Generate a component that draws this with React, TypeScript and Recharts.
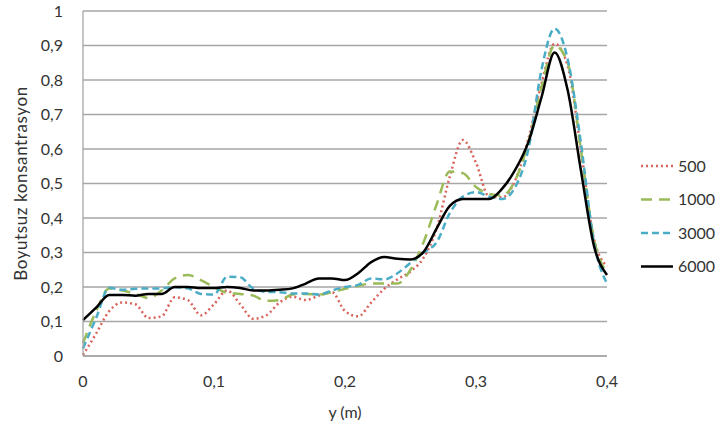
import React from "react";
import { LineChart, Line, XAxis, YAxis, CartesianGrid } from "recharts";

// y konumu (m), 0.01 adımla
const yPos = Array.from({ length: 41 }, (_, i) => Math.round(i) / 100);

const c500 = [
  0.003, 0.065, 0.13, 0.155, 0.15, 0.11, 0.115, 0.17, 0.162, 0.118,
  0.15, 0.19, 0.15, 0.108, 0.118, 0.155, 0.172, 0.162, 0.175, 0.185,
  0.13, 0.115, 0.155, 0.195, 0.222, 0.245, 0.285, 0.37, 0.52, 0.626,
  0.56, 0.462, 0.46, 0.51, 0.63, 0.79, 0.905, 0.84, 0.6, 0.34, 0.26,
];
const c1000 = [
  0.037, 0.13, 0.196, 0.19, 0.18, 0.168, 0.19, 0.225, 0.235, 0.22,
  0.2, 0.183, 0.18, 0.175, 0.16, 0.162, 0.178, 0.18, 0.178, 0.185,
  0.195, 0.203, 0.21, 0.21, 0.21, 0.25, 0.33, 0.44, 0.535, 0.53,
  0.49, 0.47, 0.465, 0.51, 0.62, 0.78, 0.9, 0.85, 0.6, 0.34, 0.24,
];
const c3000 = [
  0.022, 0.11, 0.198, 0.192, 0.195, 0.196, 0.196, 0.199, 0.196, 0.18,
  0.178, 0.23, 0.228, 0.195, 0.186, 0.185, 0.181, 0.181, 0.178, 0.19,
  0.2, 0.206, 0.225, 0.222, 0.24, 0.27, 0.3, 0.33, 0.414, 0.462,
  0.475, 0.462, 0.455, 0.49, 0.6, 0.83, 0.949, 0.86, 0.62, 0.33, 0.21,
];
const c6000 = [
  0.104, 0.14, 0.177, 0.177, 0.175, 0.18, 0.18, 0.2, 0.2, 0.197,
  0.197, 0.2, 0.197, 0.19, 0.19, 0.192, 0.196, 0.21, 0.225, 0.225,
  0.22, 0.24, 0.272, 0.287, 0.282, 0.28, 0.302, 0.37, 0.435, 0.455,
  0.455, 0.455, 0.485, 0.54, 0.62, 0.75, 0.88, 0.77, 0.54, 0.32, 0.235,
];

const xTicks = [0, 0.1, 0.2, 0.3, 0.4];
const yTicks = [0, 0.1, 0.2, 0.3, 0.4, 0.5, 0.6, 0.7, 0.8, 0.9, 1];

const rows = yPos.map((y, i) => ({
  y,
  s500: c500[i],
  s1000: c1000[i],
  s3000: c3000[i],
  s6000: c6000[i],
}));

const SERIES = [
  { key: "s500", name: "500", color: "#d9645c", dash: "2 3" },
  { key: "s1000", name: "1000", color: "#9bbb59", dash: "11 7" },
  { key: "s3000", name: "3000", color: "#4bacc6", dash: "7 4" },
  { key: "s6000", name: "6000", color: "#000000", dash: undefined },
] as const;

const fmt = (v: number) => String(v).replace(".", ",");
const FONT = "Lato, 'Open Sans', sans-serif";
const TEXT = "#333";

// Sağdaki açıklama kutusu, grafiğin alanını küçültmesin diye ayrı çizildi
function LegendBox() {
  return (
    <svg width={84} height={125} style={{ position: "absolute", left: 640, top: 154 }}>
      {SERIES.map((s, i) => (
        <g key={s.key} transform={`translate(0, ${12 + i * 33.5})`}>
          <line x1={1} x2={33} y1={0} y2={0} stroke={s.color} strokeWidth={2.5} strokeDasharray={s.dash} />
          <text x={38} y={5.5} fontSize={16} fill={TEXT} fontFamily={FONT}>
            {s.name}
          </text>
        </g>
      ))}
    </svg>
  );
}

export default function App() {
  return (
    <div style={{ position: "absolute", left: 0, top: 0, width: 724, height: 430, background: "#fff" }}>
      <LineChart width={724} height={430} data={rows} margin={{ top: 11, right: 117, bottom: 0, left: 0 }}>
        <CartesianGrid vertical={false} stroke="#a6a6a6" strokeWidth={1.3} />
        <XAxis
          dataKey="y"
          type="number"
          domain={[0, 0.4]}
          ticks={xTicks}
          interval={0}
          tickFormatter={fmt}
          stroke="#a6a6a6"
          strokeWidth={1.3}
          tickLine={false}
          tick={{ fontSize: 16, fill: TEXT, fontFamily: FONT }}
          tickMargin={14}
          label={{ value: "y (m)", position: "insideBottom", offset: 12, fontSize: 16, fill: TEXT, fontFamily: FONT }}
          height={74}
        />
        <YAxis
          type="number"
          domain={[0, 1]}
          ticks={yTicks}
          interval={0}
          tickFormatter={fmt}
          stroke="#a6a6a6"
          strokeWidth={1.3}
          tickLine={false}
          width={83}
          tickMargin={14}
          tick={{ fontSize: 16, fill: TEXT, fontFamily: FONT }}
          label={{
            value: "Boyutsuz konsantrasyon",
            angle: -90,
            position: "center",
            dx: -21,
            fontSize: 17,
            letterSpacing: 0.6,
            fill: TEXT,
            fontFamily: FONT,
          }}
        />
        {SERIES.map((s) => (
          <Line
            key={s.key}
            dataKey={s.key}
            name={s.name}
            type="monotone"
            stroke={s.color}
            strokeWidth={2.5}
            strokeDasharray={s.dash}
            dot={false}
            activeDot={false}
            isAnimationActive={false}
          />
        ))}
      </LineChart>
      <LegendBox />
    </div>
  );
}
